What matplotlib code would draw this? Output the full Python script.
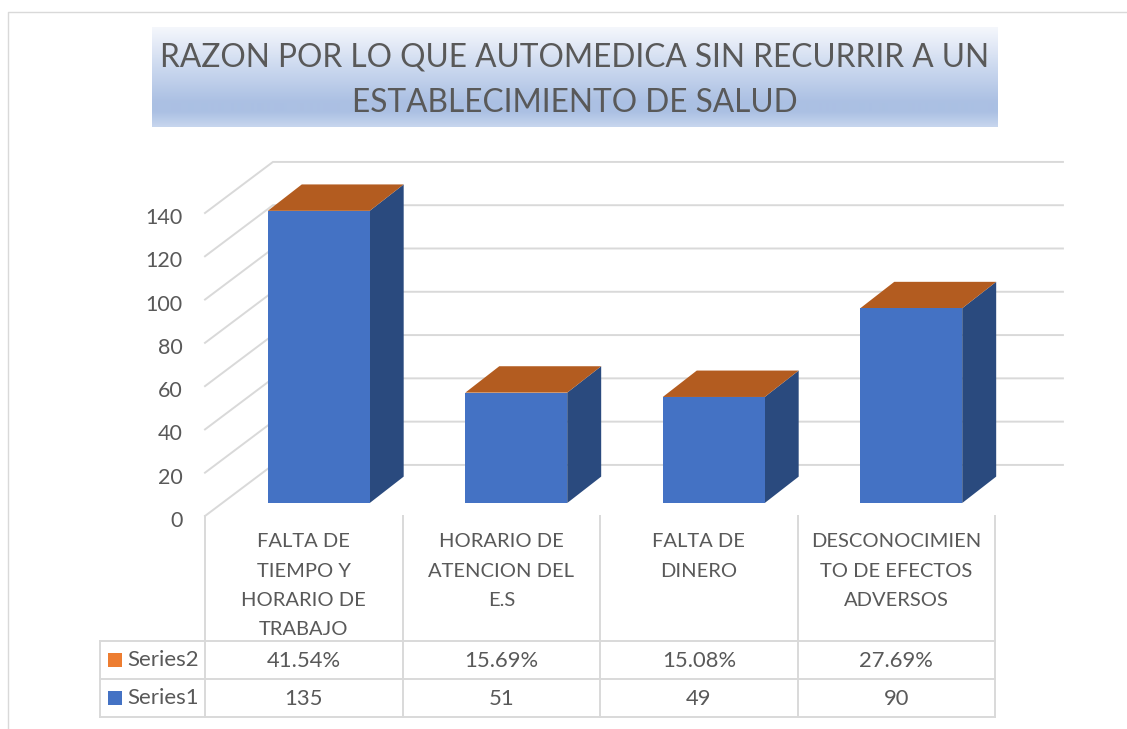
"""Automedication reasons: fake-3D Excel column chart with data table."""

import matplotlib as mpl
import matplotlib.pyplot as plt
import numpy as np
from matplotlib.colors import LinearSegmentedColormap
from matplotlib.patches import Polygon, Rectangle
from matplotlib.transforms import ScaledTranslation, blended_transform_factory

mpl.rcParams.update({
    "font.family": ["Lato", "DejaVu Sans"],
    "text.color": "#595959",
})

# ── Data ─────────────────────────────────────────────────────────────

title = "RAZON POR LO QUE AUTOMEDICA SIN RECURRIR A UN\nESTABLECIMIENTO DE SALUD"
categories = [
    "FALTA DE\nTIEMPO Y\nHORARIO DE\nTRABAJO",
    "HORARIO DE\nATENCION DEL\nE.S",
    "FALTA DE\nDINERO",
    "DESCONOCIMIEN\nTO DE EFECTOS\nADVERSOS",
]
series1 = [135, 51, 49, 90]
series2 = [41.54, 15.69, 15.08, 27.69]
yticks = [0, 20, 40, 60, 80, 100, 120, 140]

# ── Styles ───────────────────────────────────────────────────────────

W, H = 1127, 729
GRID = "#d9d9d9"
TEXT = "#595959"
FRONT = "#4472c4"
SIDE = "#2a4a7e"
TOP = "#b35c20"
ORANGE = "#ed7d31"
GRID_LW = 1.4

# plot box in pixels (front plane of the 3D wall)
LEFT, RIGHT, Y0, Y140 = 205, 995, 516, 213

# depth offsets in data units
WALL_DX, WALL_DY = 0.344, 23.6
BAR_SHIFT, BAR_LIFT = 0.076, 6.0
BAR_DX, BAR_DY = 0.172, 12.2
BAR_W = 0.516

fig = plt.figure(figsize=(W / 100, H / 100), dpi=100, facecolor="white")

# page axes in pixels, for frame, title box and table rules
page = fig.add_axes([0, 0, 1, 1])
page.axis("off")

# title box with Excel-like gradient
grad = LinearSegmentedColormap.from_list("title", [
    (0.0, "#f5f7fc"), (0.40, "#ccd9ef"), (0.75, "#abc0e3"),
    (0.85, "#abc0e3"), (1.0, "#c7d6ee"),
])
page.imshow(np.linspace(0, 1, 200).reshape(-1, 1), cmap=grad, aspect="auto",
            extent=[152, 998, 127, 27], zorder=1)
page.set_xlim(0, W)
page.set_ylim(H, 0)

page.plot([7.5, 7.5, W], [H, 12, 12], color=GRID, lw=1.0)
page.text(575, 80, title, ha="center", va="center", fontsize=22.8,
          color=TEXT, linespacing=1.64, zorder=2)

# value axes
ax = fig.add_axes([LEFT / W, 1 - Y0 / H, (RIGHT - LEFT) / W, (Y0 - Y140) / H])
ax.set_xlim(-0.5, 3.5)
ax.set_ylim(0, 140)
ax.patch.set_alpha(0)
for s in ax.spines.values():
    s.set_visible(False)

ax.set_yticks(yticks)
ax.set_xticks(range(len(categories)))
ax.set_xticklabels(categories, linespacing=1.87)
ax.tick_params(axis="y", length=0, pad=16, labelsize=15.5, labelcolor=TEXT)
ax.tick_params(axis="x", length=0, pad=12.5, labelsize=14.5, labelcolor=TEXT)

# y labels sit a little under their gridline in the original
nudge = ScaledTranslation(0, -3 / 100, fig.dpi_scale_trans)
for lab in ax.get_yticklabels():
    lab.set_transform(lab.get_transform() + nudge)

# back wall gridlines and the diagonals coming to the front
x0 = -0.5
x_end = 3.5 + WALL_DX
for v in yticks:
    ax.plot([x0, x0 + WALL_DX, x_end], [v, v + WALL_DY, v + WALL_DY],
            color=GRID, lw=GRID_LW, clip_on=False, zorder=1)

# columns
for i, v in enumerate(series1):
    xl = i + BAR_SHIFT - BAR_W / 2
    xr = xl + BAR_W
    y_base = BAR_LIFT
    y_top = v + BAR_LIFT
    ax.add_patch(Polygon([(xr, y_base), (xr + BAR_DX, y_base + BAR_DY),
                          (xr + BAR_DX, y_top + BAR_DY), (xr, y_top)],
                         fc=SIDE, ec="none", clip_on=False, zorder=3))
    ax.add_patch(Polygon([(xl, y_top), (xr, y_top), (xr + BAR_DX, y_top + BAR_DY),
                          (xl + BAR_DX, y_top + BAR_DY)],
                         fc=TOP, ec="none", clip_on=False, zorder=3))
    ax.add_patch(Rectangle((xl, y_base), BAR_W, v, fc=FRONT, ec="none",
                           clip_on=False, zorder=4))

# data table: x from the category axis, y in page pixels
ROW_TOP, ROW_MID, ROW_BOT = 641, 679, 717
TABLE_LEFT = 100
mixed = blended_transform_factory(ax.transData, page.transData)

for k in range(len(categories) + 1):
    page_x = LEFT + k * (RIGHT - LEFT) / len(categories)
    page.plot([page_x, page_x], [Y0, ROW_BOT], color=GRID, lw=GRID_LW, zorder=1)
for y in [ROW_TOP, ROW_MID, ROW_BOT]:
    page.plot([TABLE_LEFT, RIGHT], [y, y], color=GRID, lw=GRID_LW, zorder=1)
page.plot([TABLE_LEFT, TABLE_LEFT], [ROW_TOP, ROW_BOT], color=GRID, lw=GRID_LW, zorder=1)

for i, (a, b) in enumerate(zip(series1, series2)):
    ax.text(i, (ROW_TOP + ROW_MID) / 2 + 1, f"{b:.2f}%", transform=mixed,
            ha="center", va="center", fontsize=15.8, clip_on=False)
    ax.text(i, (ROW_MID + ROW_BOT) / 2 + 1, f"{a}", transform=mixed,
            ha="center", va="center", fontsize=15.8, clip_on=False)

# legend keys inside the table
for name, color, y0, y1 in [("Series2", ORANGE, ROW_TOP, ROW_MID),
                            ("Series1", FRONT, ROW_MID, ROW_BOT)]:
    mid = (y0 + y1) / 2
    page.add_patch(Rectangle((108, mid - 7), 14, 14, fc=color, ec="none", zorder=2))
    page.text(127, mid, name, ha="left", va="center", fontsize=16, color=TEXT)

fig.savefig("out.png", dpi=100)
